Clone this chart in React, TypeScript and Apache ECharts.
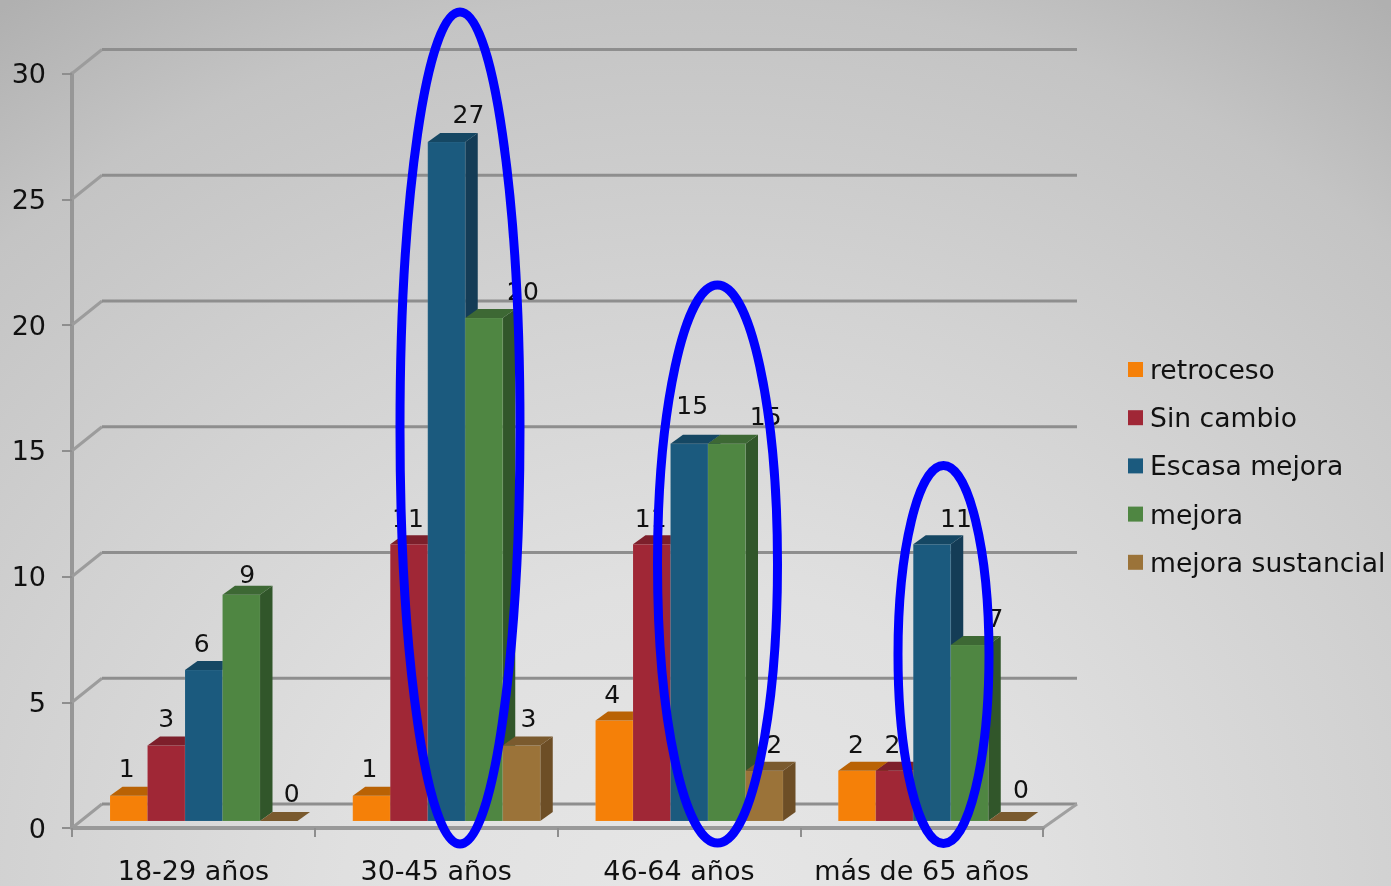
import React, { useEffect, useRef } from "react";
import * as echarts from "echarts";

const categories = ["18-29 años", "30-45 años", "46-64 años", "más de 65 años"];
const yTicks = [0, 5, 10, 15, 20, 25, 30];

const seriesNames = ["retroceso", "Sin cambio", "Escasa mejora", "mejora", "mejora sustancial"];
const retroceso = [1, 1, 4, 2];
const sinCambio = [3, 11, 11, 2];
const escasaMejora = [6, 27, 15, 11];
const mejora = [9, 20, 15, 7];
const mejoraSustancial = [0, 3, 2, 0];
const seriesValues = [retroceso, sinCambio, escasaMejora, mejora, mejoraSustancial];

// front, top and side face colours of each series' columns
const faceColors = [
  ["#F58008", "#B96204", "#9A5204"],
  ["#A02736", "#7D1F2B", "#6B1A25"],
  ["#1B5A7E", "#154763", "#143C56"],
  ["#4F8642", "#3D6834", "#31562A"],
  ["#9B7339", "#7A5A2E", "#6D4E26"],
];

// hand-placed value label offsets from the column's top centre, per series then category
const labelNudge = [
  [[-2, -27], [-2, -27], [-2, -26], [-1, -26]],
  [[0, -27], [-1, -26], [-1, -26], [-2, -26]],
  [[-2, -27], [22, -27], [3, -38], [24, -26]],
  [[6, -20], [39, -27], [39, -27], [26, -26]],
  [[13, -28], [7, -27], [10, -26], [14, -32]],
];

const GRID = { left: 72, right: 348, top: 73.5, bottom: 58 };
const BAR_W = 37.5;
const GROUP_START = 38;
const BASE_LIFT = 7;
const DEPTH_X = 12.5;
const DEPTH_Y = 9;
const WALL_X = 30;
const WALL_Y = 24;
const FONT = '"DejaVu Sans", Verdana, sans-serif';
const VALUE_SIZE = 25;
const AXIS_SIZE = 27;
const LEGEND_SIZE = 26.6;

function columnRenderer(seriesIdx: number) {
  return (params: any, api: any) => {
    const cat = api.value(0);
    const val = api.value(1);
    const band = api.size([1, 0])[0];
    const center = api.coord([cat, 0])[0];
    const x0 = center - band / 2 + GROUP_START + seriesIdx * BAR_W;
    const x1 = x0 + BAR_W;
    const base = api.coord([cat, 0])[1] - BASE_LIFT;
    const top = api.coord([cat, val])[1] - BASE_LIFT;
    const [front, topFace, side] = faceColors[seriesIdx];
    const [dx, dy] = labelNudge[seriesIdx][params.dataIndex];
    const children: any[] = [];
    if (val > 0) {
      children.push({
        type: "polygon",
        shape: { points: [[x1, top], [x1 + DEPTH_X, top - DEPTH_Y], [x1 + DEPTH_X, base - DEPTH_Y], [x1, base]] },
        style: { fill: side },
      });
      children.push({
        type: "rect",
        shape: { x: x0, y: top, width: BAR_W, height: base - top },
        style: { fill: front, stroke: "rgba(255,255,255,0.08)", lineWidth: 1 },
      });
    }
    children.push({
      type: "polygon",
      shape: { points: [[x0, top], [x0 + DEPTH_X, top - DEPTH_Y], [x1 + DEPTH_X, top - DEPTH_Y], [x1, top]] },
      style: { fill: topFace },
    });
    children.push({
      type: "text",
      style: {
        x: (x0 + x1) / 2 + dx,
        y: top + dy,
        text: String(val),
        fill: "#111",
        font: `${VALUE_SIZE}px ${FONT}`,
        textAlign: "center",
        textVerticalAlign: "middle",
      },
    });
    return { type: "group", children };
  };
}

// back wall lines with their slanted returns to the value axis
function wallRenderer(params: any, api: any) {
  const v = api.value(1);
  const y = api.coord([0, v])[1];
  const rect = params.coordSys;
  const xL = rect.x;
  const xR = rect.x + rect.width;
  const children: any[] = [
    {
      type: "line",
      shape: { x1: xL, y1: y, x2: xL + WALL_X, y2: y - WALL_Y },
      style: { stroke: "#9c9c9c", lineWidth: 3 },
    },
    {
      type: "line",
      shape: { x1: xL + WALL_X, y1: y - WALL_Y, x2: xR + WALL_X + 4, y2: y - WALL_Y },
      style: { stroke: "#8e8e8e", lineWidth: 3 },
    },
  ];
  if (v === 0) {
    children.push({
      type: "line",
      shape: { x1: xR, y1: y, x2: xR + WALL_X + 4, y2: y - WALL_Y },
      style: { stroke: "#a0a0a0", lineWidth: 3 },
    });
  }
  return { type: "group", children };
}

const rings = [
  { cx: 460, cy: 428, rx: 60, ry: 416 },
  { cx: 717.5, cy: 564, rx: 60, ry: 279 },
  { cx: 943.5, cy: 654.5, rx: 45.5, ry: 189 },
];

export default function App() {
  const ref = useRef<HTMLDivElement>(null);
  useEffect(() => {
    const chart = echarts.init(ref.current!, undefined, { renderer: "svg" });
    chart.setOption({
      animation: false,
      grid: GRID,
      xAxis: {
        type: "category",
        data: categories,
        axisLine: { lineStyle: { color: "#999", width: 4 } },
        axisTick: { show: true, length: 9, lineStyle: { color: "#8e8e8e", width: 2 } },
        axisLabel: { color: "#111", fontSize: AXIS_SIZE, fontFamily: FONT, margin: 29, interval: 0 },
        z: 3,
      },
      yAxis: {
        type: "value",
        min: 0,
        max: 30,
        interval: 5,
        axisLine: { show: true, lineStyle: { color: "#979797", width: 4 } },
        axisTick: { show: true, length: 10, lineStyle: { color: "#8e8e8e", width: 2 } },
        splitLine: { show: false },
        axisLabel: { color: "#111", fontSize: AXIS_SIZE, fontFamily: FONT, margin: 26 },
      },
      legend: {
        orient: "vertical",
        left: 1128,
        top: 354.5,
        padding: 0,
        itemWidth: 15,
        itemHeight: 15,
        itemGap: 18.2,
        icon: "rect",
        data: seriesNames,
        selectedMode: false,
        textStyle: {
          color: "#111",
          fontSize: LEGEND_SIZE,
          fontFamily: FONT,
          lineHeight: 30,
          padding: [0, 0, 0, 2],
        },
      },
      series: [
        {
          type: "custom",
          name: "pared",
          silent: true,
          coordinateSystem: "cartesian2d",
          data: yTicks.map((v) => [0, v]),
          encode: { x: 0, y: 1 },
          renderItem: wallRenderer,
          clip: false,
          z: 1,
        },
        ...seriesNames.map((name, i) => ({
          type: "custom",
          name,
          coordinateSystem: "cartesian2d",
          data: seriesValues[i].map((v, c) => [c, v]),
          encode: { x: 0, y: 1 },
          itemStyle: { color: faceColors[i][0] },
          renderItem: columnRenderer(i),
          clip: false,
          z: 4,
        })),
      ],
      graphic: rings.map((shape) => ({
        type: "ellipse",
        shape,
        style: { fill: "transparent", stroke: "#0000FF", lineWidth: 9 },
        silent: true,
        z: 100,
      })),
    });
    return () => chart.dispose();
  }, []);
  return (
    <div
      ref={ref}
      style={{
        position: "fixed",
        left: 0,
        top: 0,
        width: 1391,
        height: 886,
        background:
          "radial-gradient(ellipse 1210px 1089px at 695px 900px, #e6e6e6 0%, #e0e0e0 29%, #d2d2d2 57%, #c4c4c4 83%, #b0b0b0 100%)",
      }}
    />
  );
}
